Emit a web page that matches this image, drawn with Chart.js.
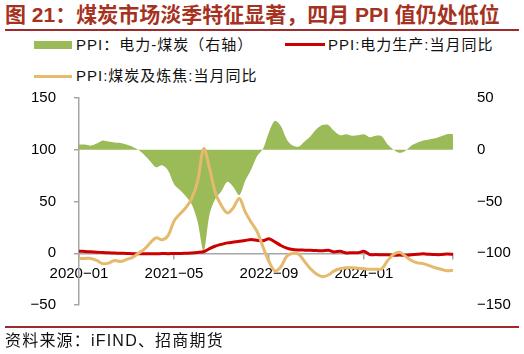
<!DOCTYPE html>
<html>
<head>
<meta charset="utf-8">
<script src="https://cdn.jsdelivr.net/npm/chart.js@4.4.1/dist/chart.umd.min.js"></script>
<style>
  body { margin: 0; width: 524px; height: 354px; background: #fff; position: relative; overflow: hidden;
         font-family: "Liberation Sans", "Noto Sans CJK SC", sans-serif; }
  #title { position: absolute; left: 5px; top: 2px; font-size: 21px; font-weight: bold; color: #A5321E;
           white-space: nowrap; line-height: 26px; }
  .rule { position: absolute; left: 5px; width: 514px; height: 2px; background: #9E2A2B; }
  .leg { position: absolute; font-size: 15px; line-height: 18px; color: #111; white-space: nowrap; letter-spacing: 1px; }
  .sw { position: absolute; }
  #src { position: absolute; left: 5px; top: 331px; font-size: 16px; line-height: 20px; color: #111; white-space: nowrap; letter-spacing: 1.2px; }
  #wrap { position: absolute; left: 0; top: 71px; width: 524px; height: 261px; }
</style>
</head>
<body>
<div id="title">图 21：煤炭市场淡季特征显著，四月 PPI 值仍处低位</div>
<div class="rule" style="top:29px"></div>

<div class="sw" style="left:34px;top:41px;width:38px;height:8px;background:#9BBB59"></div>
<div class="leg" style="left:76px;top:36px">PPI：电力-煤炭（右轴）</div>
<div class="sw" style="left:285px;top:43px;width:40px;height:3px;background:#CC0000"></div>
<div class="leg" style="left:328px;top:36px">PPI:电力生产:当月同比</div>
<div class="sw" style="left:34px;top:75px;width:38px;height:3px;background:#E5BA6E"></div>
<div class="leg" style="left:76px;top:67px">PPI:煤炭及炼焦:当月同比</div>

<div id="wrap"><canvas id="chart" width="524" height="261"></canvas></div>

<div class="rule" style="top:326px"></div>
<div id="src">资料来源：iFIND、招商期货</div>

<script>
const months = [
  "2020-01","2020-02","2020-03","2020-04","2020-05","2020-06","2020-07","2020-08","2020-09","2020-10","2020-11","2020-12",
  "2021-01","2021-02","2021-03","2021-04","2021-05","2021-06","2021-07","2021-08","2021-09","2021-10","2021-11","2021-12",
  "2022-01","2022-02","2022-03","2022-04","2022-05","2022-06","2022-07","2022-08","2022-09","2022-10","2022-11","2022-12",
  "2023-01","2023-02","2023-03","2023-04","2023-05","2023-06","2023-07","2023-08","2023-09","2023-10","2023-11","2023-12",
  "2024-01","2024-02","2024-03","2024-04","2024-05","2024-06","2024-07","2024-08","2024-09","2024-10","2024-11","2024-12",
  "2025-01","2025-02","2025-03","2025-04"
];

// PPI: 电力-煤炭 (right axis)
const spread = [
  5, 5, 4, 6, 9, 8, 7, 6.5, 5, 3, 0, -5,
  -11, -17, -15, -20, -33, -39, -45, -53, -70, -98, -62, -47,
  -40, -31, -36, -44, -30, -19, -6, 1, 17, 28, 23, 10,
  4, 3, 8, 13, 20, 24, 24, 18, 14, 15, 13.5, 14,
  15, 12, 13.5, 13, 5, 0, -3, -1, 4, 7, 9, 10,
  11, 13, 15, 15
];

// PPI: 电力生产: 当月同比
const power = [
  2.0, 1.7, 1.4, 1.0, 0.7, 0.4, 0.2, 0.0, -0.2, -0.4, -0.5, -0.6,
  -0.4, -0.5, -0.3, -0.4, -0.2, -0.3, 0.0, 0.3, 0.8, 1.5, 4.5, 7.0,
  8.6, 10.0, 10.8, 11.5, 12.4, 13.4, 12.5, 12.0, 14.0, 11.0, 7.5, 5.0,
  3.6, 3.2, 3.0, 2.8, 2.6, 2.3, 2.9, 1.3, 2.0, 0.3, 0.6, 0.4,
  2.0, -1.3, -1.3, -1.5, -1.4, -2.0, -1.8, -2.0, -1.5, -1.0, -0.6, -1.0,
  -1.3, -1.3, -0.8, -1.0
];

// PPI: 煤炭及炼焦: 当月同比
const coal = [
  -5, -5, -5, -7, -10, -9.5, -7, -8, -6, -4, 0, 4,
  10, 15, 13, 17, 31, 38, 44, 53, 70, 101, 82, 58,
  46, 39, 44, 53, 40, 30, 21, 6, -8, -17, -13, -3,
  0, -1, -8, -15, -20, -22.6, -21, -17, -15, -14, -14, -14.5,
  -15, -15.5, -15.5, -15, -7, -1, 1, -3, -7, -9.3, -10, -12,
  -14, -15.5, -17, -16.4
];

const xTickLabels = ["2020-01", "2021-05", "2022-09", "2024-01"];
const leftTicks = [-50, 0, 50, 100, 150];
const rightTicks = [-150, -100, -50, 0, 50];

const xTickIdx = xTickLabels.map(l => months.indexOf(l)).concat([months.length - 1]);
const axisGrey = "#A6A6A6";
const tickFont = { family: "Liberation Sans", size: 15 };
const minus = v => (v < 0 ? "\u2212" + Math.abs(v) : String(v));

Chart.defaults.font.family = "Liberation Sans";

const ctx = document.getElementById("chart").getContext("2d");
new Chart(ctx, {
  type: "line",
  data: {
    labels: months,
    datasets: [
      {
        label: "PPI：电力-煤炭（右轴）",
        data: spread,
        yAxisID: "y1",
        fill: "origin",
        backgroundColor: "#9BBB59",
        borderColor: "#9BBB59",
        borderWidth: 0,
        pointRadius: 0,
        tension: 0.3,
        order: 3,
      },
      {
        label: "PPI:电力生产:当月同比",
        data: power,
        yAxisID: "y",
        fill: false,
        borderColor: "#CC0000",
        borderWidth: 3,
        pointRadius: 0,
        tension: 0.2,
        order: 2,
      },
      {
        label: "PPI:煤炭及炼焦:当月同比",
        data: coal,
        yAxisID: "y",
        fill: false,
        borderColor: "#E5BA6E",
        borderWidth: 3,
        pointRadius: 0,
        tension: 0.35,
        order: 1,
      },
    ],
  },
  options: {
    responsive: false,
    animation: false,
    layout: { padding: { top: 10, bottom: 17, left: 0, right: 0 } },
    plugins: { legend: { display: false }, tooltip: { enabled: false } },
    scales: {
      x: {
        axis: "x",
        type: "category",
        position: { y: 0 },
        offset: false,
        grid: { display: true, drawOnChartArea: false, drawTicks: true, tickLength: 5, color: axisGrey, lineWidth: 1.5 },
        border: { display: true, color: axisGrey, width: 1.5 },
        ticks: {
          autoSkip: false,
          maxRotation: 0,
          padding: 7,
          color: "#000",
          font: tickFont,
          callback: v => (v === months.length - 1 ? "" : months[v].replace("-", "\u2212")),
        },
        afterBuildTicks: s => { s.ticks = s.ticks.filter(t => xTickIdx.includes(t.value)); },
      },
      y: {
        position: "left",
        min: -50,
        max: 150,
        grid: { drawOnChartArea: false, drawTicks: true, tickLength: 5, color: axisGrey, lineWidth: 1.5 },
        border: { display: true, color: axisGrey, width: 1.5 },
        ticks: { color: "#000", font: tickFont, padding: 18, callback: minus },
        afterBuildTicks: s => { s.ticks = leftTicks.map(v => ({ value: v })); },
        afterFit: s => { s.width = 79; },
      },
      y1: {
        position: "right",
        min: -150,
        max: 50,
        grid: { display: false },
        border: { display: false },
        ticks: { color: "#000", font: tickFont, padding: 16, callback: minus },
        afterBuildTicks: s => { s.ticks = rightTicks.map(v => ({ value: v })); },
        afterFit: s => { s.width = 71; },
      },
    },
  },
});
</script>
</body>
</html>
